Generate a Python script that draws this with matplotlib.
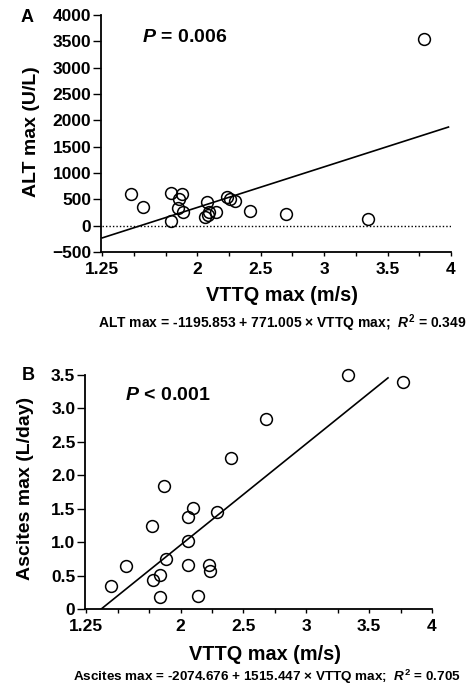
import numpy as np
import matplotlib
matplotlib.use('Agg')
import matplotlib.pyplot as plt

plt.rcParams['font.family'] = ['Liberation Sans', 'DejaVu Sans']
plt.rcParams['font.weight'] = 'bold'
plt.rcParams['mathtext.fontset'] = 'custom'
plt.rcParams['mathtext.rm'] = 'Liberation Sans:bold'
plt.rcParams['mathtext.it'] = 'Liberation Sans:italic:bold'
plt.rcParams['mathtext.bf'] = 'Liberation Sans:bold'

# Panel A data: VTTQ max (m/s) vs ALT max (U/L)
vttq_a = [1.477, 1.575, 1.794, 1.794, 1.88, 1.852, 1.847, 1.886, 2.072, 2.064,
          2.084, 2.092, 2.145, 2.23, 2.256, 2.296, 2.415, 2.70, 3.347, 3.79]
alt_max = [597, 350, 616, 89, 603, 502, 331, 266, 456, 160,
           203, 255, 266, 551, 502, 470, 285, 222, 127, 3544]

# Panel B data: VTTQ max (m/s) vs Ascites max (L/day)
vttq_b = [1.450, 1.570, 1.777, 1.839, 1.839, 1.772, 1.870, 1.884, 2.057, 2.097,
          2.057, 2.057, 2.137, 2.230, 2.236, 2.291, 2.398, 2.683, 3.330, 3.770]
ascites_max = [0.338, 0.637, 0.438, 0.502, 0.179, 1.234, 1.846, 0.746, 1.383, 1.507,
               1.010, 0.662, 0.189, 0.662, 0.562, 1.448, 2.254, 2.841, 3.507, 3.398]

# regression coefficients from the captions
fit_a = (-1195.853, 771.005)
fit_b = (-2074.676 / 1000, 1515.447 / 1000)

x_ticks = [1.25, 1.5, 1.75, 2, 2.25, 2.5, 2.75, 3, 3.25, 3.5, 3.75, 4]
x_labels = ['1.25', '', '', '2', '', '2.5', '', '3', '', '3.5', '', '4']

W, H = 477, 686
fig = plt.figure(figsize=(W / 100, H / 100), dpi=100)


def px_axes(left, top, right, bottom):
    return fig.add_axes([left / W, 1 - bottom / H, (right - left) / W, (bottom - top) / H])


def style(ax):
    for s in ['top', 'right']:
        ax.spines[s].set_visible(False)
    for s in ['left', 'bottom']:
        ax.spines[s].set_linewidth(1.3)
    ax.set_xticks(x_ticks)
    ax.set_xticklabels(x_labels)
    ax.tick_params(axis='x', length=3, width=1, labelsize=12.5, pad=4)
    ax.tick_params(axis='y', length=6, width=1, labelsize=12.5, pad=1)
    for lab in ax.get_xticklabels() + ax.get_yticklabels():
        lab.set_fontweight('bold')


# ---- Panel A ----
axA = px_axes(101, 15, 451, 252)
axA.set_xlim(1.24, 4.0)
axA.set_ylim(-500, 4000)
axA.set_yticks(np.arange(-500, 4001, 500))
style(axA)
axA.plot(vttq_a, alt_max, 'o', mfc='none', mec='black', ms=8.5, mew=1.1, clip_on=False)
xs = np.array([1.25, 3.98])
axA.plot(xs, fit_a[0] + fit_a[1] * xs, color='black', lw=1.2)
axA.plot([1.25, 4.0], [0, 0], color='black', lw=1, ls=(0, (1, 1.5)))
axA.set_xlabel('VTTQ max (m/s)', fontsize=14.3, fontweight='bold')
axA.set_ylabel('ALT max (U/L)', fontsize=14, fontweight='bold')
axA.xaxis.set_label_coords(0.517, -0.143)
axA.yaxis.set_label_coords(-0.174, 0.506)
fig.text(27 / W, 1 - 18 / H, 'A', fontsize=13, fontweight='bold', ha='center', va='center')
fig.text(142 / W, 1 - 37 / H, r'$P$ = 0.006', fontsize=14, fontweight='bold', ha='left', va='center')
fig.text(282 / W, 1 - 323 / H, r'ALT max = -1195.853 + 771.005 × VTTQ max;  $R^{2}$ = 0.349',
         fontsize=10, fontweight='bold', ha='center', va='center')

# ---- Panel B ----
axB = px_axes(85, 375, 432, 609)
axB.set_xlim(1.24, 4.0)
axB.set_ylim(0, 3.5)
axB.set_yticks([0, 0.5, 1.0, 1.5, 2.0, 2.5, 3.0, 3.5])
axB.set_yticklabels(['0', '0.5', '1.0', '1.5', '2.0', '2.5', '3.0', '3.5'])
style(axB)
axB.plot(vttq_b, ascites_max, 'o', mfc='none', mec='black', ms=8.5, mew=1.1, clip_on=False)
x0 = -fit_b[0] / fit_b[1]
xs = np.array([x0, 3.65])
axB.plot(xs, fit_b[0] + fit_b[1] * xs, color='black', lw=1.2)
axB.set_xlabel('VTTQ max (m/s)', fontsize=14.3, fontweight='bold')
axB.set_ylabel('Ascites max (L/day)', fontsize=14, fontweight='bold')
axB.xaxis.set_label_coords(0.519, -0.154)
axB.yaxis.set_label_coords(-0.147, 0.517)
fig.text(28 / W, 1 - 375 / H, 'B', fontsize=13, fontweight='bold', ha='center', va='center')
fig.text(125 / W, 1 - 395 / H, r'$P$ < 0.001', fontsize=14, fontweight='bold', ha='left', va='center')
fig.text(267 / W, 1 - 677 / H, r'Ascites max = -2074.676 + 1515.447 × VTTQ max;  $R^{2}$ = 0.705',
         fontsize=9.7, fontweight='bold', ha='center', va='center')

fig.savefig('out.png', dpi=100)
